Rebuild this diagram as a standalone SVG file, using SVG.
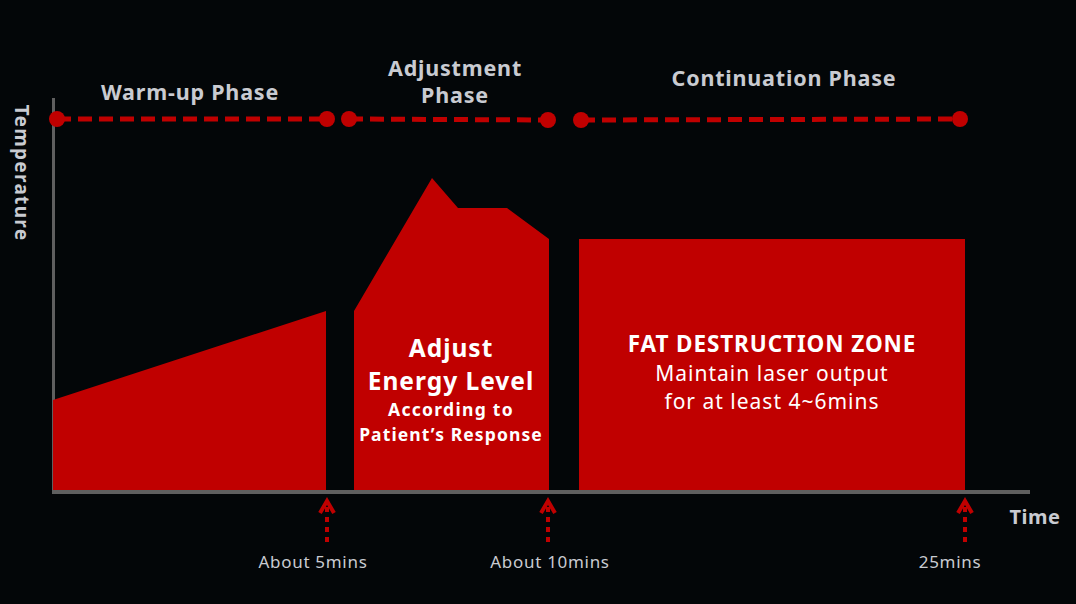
<svg xmlns="http://www.w3.org/2000/svg" width="1076" height="604" viewBox="0 0 1076 604">
<defs>
<style>
.t{font-family:"Noto Sans","Open Sans","Liberation Sans",sans-serif;}
.ph{fill:#c9cbd1;font-weight:bold;font-size:21.5px;letter-spacing:0.8px;text-anchor:middle;}
.lab{fill:#c9cbd1;font-size:17px;letter-spacing:0.7px;text-anchor:middle;}
.w{fill:#ffffff;text-anchor:middle;}
.shape{fill:#c00000;}
.dash{stroke:#c00000;stroke-width:5;stroke-dasharray:14 7;fill:none;}
.dot{fill:#c00000;}
.arr{stroke:#c00000;stroke-width:4;stroke-dasharray:5 5;fill:none;}
.head{stroke:#c00000;stroke-width:4;fill:none;stroke-linejoin:miter;}
.axis{stroke:#5f5f5f;fill:none;}
</style>
</defs>
<rect width="1076" height="604" fill="#030608"/>
<g id="axes">
<line class="axis" x1="53.5" y1="98" x2="53.5" y2="494" stroke-width="3"/>
<line class="axis" x1="52" y1="492" x2="1030" y2="492" stroke-width="4"/>
<text class="t" x="1035" y="524" style="fill:#c9cbd1;font-weight:bold;font-size:20px;letter-spacing:0.5px;text-anchor:middle">Time</text>
<text class="t" transform="translate(15,173) rotate(90)" style="fill:#c9cbd1;font-weight:bold;font-size:19px;letter-spacing:1.3px;text-anchor:middle">Temperature</text>
</g>
<g id="warmup">
<polygon class="shape" points="53,400 326,311 326,490 53,490"/>
<text class="t ph" x="190" y="100">Warm-up Phase</text>
</g>
<g id="adjust">
<polygon class="shape" points="354,311 432,178 458,208 507,208 549,239 549,490 354,490"/>
<text class="t ph" x="455" y="76">Adjustment</text>
<text class="t ph" x="455" y="103">Phase</text>
<text class="t w" x="451" y="357" style="font-weight:bold;font-size:24.5px;letter-spacing:1px">Adjust</text>
<text class="t w" x="451" y="390" style="font-weight:bold;font-size:24.5px;letter-spacing:1px">Energy Level</text>
<text class="t w" x="451" y="416" style="font-weight:bold;font-size:17.5px;letter-spacing:1.3px">According to</text>
<text class="t w" x="451" y="441" style="font-weight:bold;font-size:17.5px;letter-spacing:1.1px">Patient’s Response</text>
</g>
<g id="continuation">
<rect class="shape" x="579" y="239" width="386" height="251"/>
<text class="t ph" x="784" y="86">Continuation Phase</text>
<text class="t w" x="772" y="352" style="font-weight:bold;font-size:22.5px;letter-spacing:0.9px">FAT DESTRUCTION ZONE</text>
<text class="t w" x="772" y="381" style="font-size:21px;letter-spacing:1px">Maintain laser output</text>
<text class="t w" x="772" y="409" style="font-size:21px;letter-spacing:1px">for at least 4~6mins</text>
</g>
<g id="connectors">
<line class="dash" x1="57" y1="119" x2="327" y2="119"/>
<circle class="dot" cx="57" cy="119" r="8"/>
<circle class="dot" cx="327" cy="119" r="8"/>
<line class="dash" x1="349" y1="119" x2="548" y2="120"/>
<circle class="dot" cx="349" cy="119" r="8"/>
<circle class="dot" cx="548" cy="120" r="8"/>
<line class="dash" x1="581" y1="120" x2="960" y2="119"/>
<circle class="dot" cx="581" cy="120" r="8"/>
<circle class="dot" cx="960" cy="119" r="8"/>
<line class="arr" x1="327" y1="542" x2="327" y2="503"/>
<polyline class="head" points="320,513 327,501 334,513"/>
<line class="arr" x1="548" y1="542" x2="548" y2="503"/>
<polyline class="head" points="541,513 548,501 555,513"/>
<line class="arr" x1="965" y1="542" x2="965" y2="503"/>
<polyline class="head" points="958,513 965,501 972,513"/>
</g>
<g id="labels">
<text class="t lab" x="313" y="568">About 5mins</text>
<text class="t lab" x="550" y="568">About 10mins</text>
<text class="t lab" x="950" y="568">25mins</text>
</g>
</svg>
